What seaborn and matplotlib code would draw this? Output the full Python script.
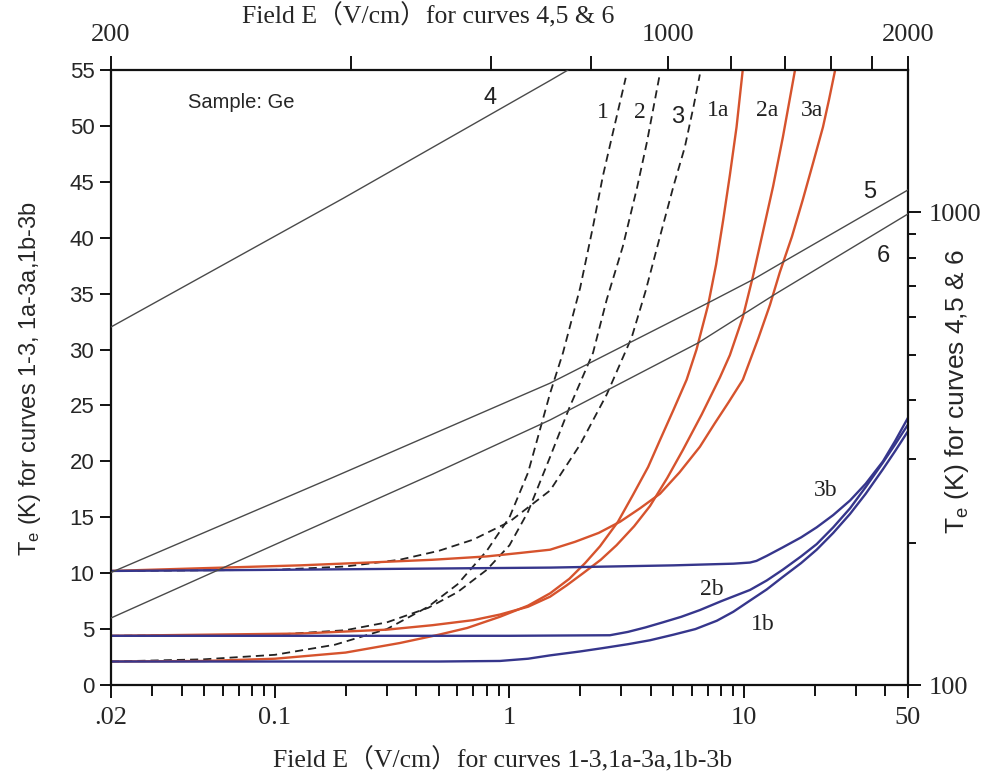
import numpy as np
import pandas as pd
import matplotlib
matplotlib.use('Agg')
import matplotlib.pyplot as plt
import seaborn as sns
from matplotlib.ticker import FixedLocator, FixedFormatter, NullFormatter

sns.set_style('ticks')
plt.rcParams['font.family'] = ['Liberation Sans', 'Noto Sans CJK SC']
plt.rcParams['mathtext.default'] = 'regular'
SERIF = ['Liberation Serif', 'Noto Sans CJK SC']

# ---------------- data: bottom axis E (V/cm), left axis Te (K) ----------------
E1 = [0.02, 0.05, 0.1, 0.18, 0.3, 0.45, 0.6, 0.8, 1.0, 1.2, 1.49, 1.69, 2.0, 2.27, 2.5, 2.76, 3.13]
T1 = [2.1, 2.3, 2.7, 3.6, 5.0, 7.0, 9.0, 12.0, 15.0, 19.0, 26.1, 29.7, 35.5, 41.0, 45.5, 49.4, 54.3]
E2 = [0.02, 0.1, 0.2, 0.3, 0.45, 0.6, 0.8, 1.0, 1.2, 1.49, 1.8, 2.27, 2.6, 3.04, 3.5, 3.85, 4.38]
T2 = [4.4, 4.5, 4.9, 5.6, 6.9, 8.3, 10.3, 12.5, 15.5, 20.4, 24.8, 29.7, 34.5, 39.2, 44.5, 48.5, 54.7]
E3 = [0.02, 0.1, 0.2, 0.34, 0.5, 0.7, 1.0, 1.49, 2.0, 2.6, 3.32, 3.8, 4.38, 5.0, 5.59, 6.1, 6.48]
T3 = [10.2, 10.3, 10.6, 11.2, 12.0, 13.0, 14.6, 17.4, 21.5, 26.0, 31.1, 35.2, 40.1, 44.6, 48.1, 51.8, 54.6]

E1a = [0.02, 0.05, 0.1, 0.2, 0.34, 0.5, 0.66, 0.91, 1.2, 1.49, 1.8, 2.1, 2.43, 2.9, 3.36, 3.9,
       4.38, 5.0, 5.69, 6.27, 7.03, 7.6, 8.15, 8.7, 9.29, 9.86]
T1a = [2.1, 2.15, 2.35, 2.9, 3.75, 4.5, 5.1, 6.1, 7.1, 8.2, 9.5, 10.9, 12.4, 14.6, 17.0, 19.5,
       21.9, 24.6, 27.3, 30.0, 34.0, 37.6, 41.6, 45.6, 49.9, 54.9]
E2a = [0.02, 0.128, 0.3, 0.47, 0.7, 0.91, 1.2, 1.49, 1.75, 2.06, 2.45, 2.86, 3.4, 3.97, 4.7,
       5.48, 6.6, 7.89, 8.7, 9.88, 10.9, 12.0, 13.3, 14.64, 16.46]
T2a = [4.4, 4.6, 4.95, 5.35, 5.8, 6.3, 7.0, 7.9, 8.9, 10.0, 11.2, 12.5, 14.2, 16.0, 18.5,
       21.0, 24.2, 27.5, 29.5, 32.9, 36.5, 40.4, 44.6, 49.0, 54.9]
E3a = [0.02, 0.05, 0.128, 0.25, 0.47, 0.8, 1.1, 1.49, 1.9, 2.4, 2.96, 3.6, 4.38, 5.3, 6.48,
       7.5, 8.6, 9.88, 11.5, 12.9, 14.2, 16.0, 17.8, 19.7, 21.7, 23.0, 24.4]
T3a = [10.2, 10.45, 10.7, 10.95, 11.2, 11.5, 11.8, 12.1, 12.8, 13.6, 14.6, 15.8, 17.1, 19.0, 21.3,
       23.4, 25.3, 27.3, 31.0, 34.0, 36.9, 40.1, 43.4, 46.7, 49.9, 52.3, 54.9]

E1b = [0.02, 0.5, 0.91, 1.2, 1.49, 2.0, 2.5, 3.2, 3.97, 5.0, 6.2, 7.66, 9.0, 10.6, 12.5, 14.6,
       17.5, 20.4, 24, 28.3, 33, 39.1, 44, 50]
T1b = [2.1, 2.1, 2.15, 2.35, 2.65, 3.0, 3.3, 3.65, 4.0, 4.5, 5.0, 5.75, 6.55, 7.55, 8.55, 9.65,
       10.9, 12.1, 13.6, 15.3, 17.1, 19.3, 20.9, 22.7]
E2b = [0.02, 1.0, 2.68, 3.2, 3.8, 4.5, 5.4, 6.48, 8.0, 10.6, 12.5, 14.6, 17.5, 20.4, 24, 28.3,
       33, 39.1, 44, 50]
T2b = [4.4, 4.4, 4.45, 4.75, 5.15, 5.6, 6.1, 6.7, 7.5, 8.5, 9.35, 10.3, 11.5, 12.6, 14.1, 15.8,
       17.7, 19.9, 21.5, 23.3]
E3b = [0.02, 0.1, 1.5, 5, 9.0, 10.6, 11.3, 12.5, 14.6, 17.5, 20.4, 24, 28.3, 33, 39.1, 44, 50]
T3b = [10.2, 10.3, 10.5, 10.7, 10.85, 10.95, 11.1, 11.55, 12.3, 13.2, 14.1, 15.2, 16.5, 18.0,
       20.0, 21.8, 23.9]

# ---------------- data: top axis E (V/cm), right axis Te (K) ----------------
E4 = [200, 391, 711, 749]
T4 = [572, 1070, 1900, 2000]
E5 = [200, 380, 711, 1122, 1275, 1414, 2000]
T5 = [173, 275, 435, 643, 719, 796, 1115]
E6 = [200, 308, 507, 711, 1090, 1370, 2000]
T6 = [138.6, 192, 279.5, 363.6, 529, 675, 992]

bottom_major = [0.02, 0.1, 1, 10, 50]
bottom_major_labels = ['.02', '0.1', '1', '10', '50']
bottom_minor = [0.03, 0.04, 0.05, 0.06, 0.07, 0.08, 0.09,
                0.2, 0.3, 0.4, 0.5, 0.6, 0.7, 0.8, 0.9,
                2, 3, 4, 5, 6, 7, 8, 9, 20, 30, 40]
left_ticks = [0, 5, 10, 15, 20, 25, 30, 35, 40, 45, 50, 55]
top_major = [200, 1000, 2000]
top_minor = [400, 600, 800, 1200, 1400, 1600, 1800]
right_major = [100, 1000]
right_minor = [200, 300, 400, 500, 600, 700, 800, 900]

RED = '#d6532d'
BLUE = '#36368c'
GREY = '#4a4a4a'

fig = plt.figure(figsize=(9.87, 7.79), dpi=100)
pos = [111 / 987, 1 - 685 / 779, 797 / 987, 615 / 779]
ax = fig.add_axes(pos)
ax2 = fig.add_axes(pos, frameon=False)


def draw(a, x, y, **kw):
    df = pd.DataFrame({'x': x, 'y': y})
    sns.lineplot(data=df, x='x', y='y', ax=a, sort=False, estimator=None, **kw)


for x, y in [(E1, T1), (E2, T2), (E3, T3)]:
    draw(ax, x, y, color='#222222', lw=1.3, linestyle=(0, (4.5, 2.8)))
for x, y in [(E1a, T1a), (E2a, T2a), (E3a, T3a)]:
    draw(ax, x, y, color=RED, lw=1.7)
for x, y in [(E1b, T1b), (E2b, T2b), (E3b, T3b)]:
    draw(ax, x, y, color=BLUE, lw=1.7)
for x, y in [(E4, T4), (E5, T5), (E6, T6)]:
    draw(ax2, x, y, color=GREY, lw=1.0)

# main axes
ax.set_xscale('log')
ax.set_xlim(0.02, 50)
ax.set_ylim(0, 55)
ax.xaxis.set_major_locator(FixedLocator(bottom_major))
ax.xaxis.set_major_formatter(FixedFormatter(bottom_major_labels))
ax.xaxis.set_minor_locator(FixedLocator(bottom_minor))
ax.xaxis.set_minor_formatter(NullFormatter())
ax.yaxis.set_major_locator(FixedLocator(left_ticks))
ax.set_xlabel('')
ax.set_ylabel('')
for s in ax.spines.values():
    s.set_linewidth(1.6)
    s.set_color('#111111')
    s.set_visible(True)
ax.tick_params(axis='both', which='both', direction='out', color='#111111', width=1.4)
ax.tick_params(axis='x', which='major', length=9, pad=7)
ax.tick_params(axis='x', which='minor', length=8)
ax.tick_params(axis='y', which='major', length=8, pad=4, labelsize=16)
for lab in ax.get_xticklabels():
    lab.set_fontfamily(SERIF)
    lab.set_fontsize(19)

# secondary axes (top & right)
ax2.set_xscale('log')
ax2.set_yscale('log')
ax2.set_xlim(200, 2000)
ax2.set_ylim(100, 2000)
ax2.xaxis.tick_top()
ax2.yaxis.tick_right()
ax2.xaxis.set_major_locator(FixedLocator(top_major))
ax2.xaxis.set_major_formatter(FixedFormatter([str(v) for v in top_major]))
ax2.xaxis.set_minor_locator(FixedLocator(top_minor))
ax2.xaxis.set_minor_formatter(NullFormatter())
ax2.yaxis.set_major_locator(FixedLocator(right_major))
ax2.yaxis.set_major_formatter(FixedFormatter([str(v) for v in right_major]))
ax2.yaxis.set_minor_locator(FixedLocator(right_minor))
ax2.yaxis.set_minor_formatter(NullFormatter())
ax2.set_xlabel('')
ax2.set_ylabel('')
ax2.tick_params(axis='both', which='both', direction='out', color='#111111', width=1.4)
ax2.tick_params(axis='x', which='both', length=10, pad=7)
ax2.tick_params(axis='y', which='major', length=9, pad=6)
ax2.tick_params(axis='y', which='minor', length=6)
for lab in ax2.get_xticklabels() + ax2.get_yticklabels():
    lab.set_fontfamily(SERIF)
    lab.set_fontsize(19)

# axis titles
fig.text(503 / 987, 1 - 760 / 779, 'Field E（V/cm）for curves 1-3,1a-3a,1b-3b',
         ha='center', va='center', fontsize=18.5, family=SERIF)
fig.text(428 / 987, 1 - 16 / 779, 'Field E（V/cm）for curves 4,5 & 6',
         ha='center', va='center', fontsize=18.5, family=SERIF)
fig.text(30 / 987, 1 - 378 / 779, 'T$_e$ (K) for curves 1-3, 1a-3a,1b-3b',
         ha='center', va='center', rotation=90, fontsize=17)
fig.text(957 / 987, 1 - 392 / 779, 'T$_e$ (K) for curves 4,5 & 6',
         ha='center', va='center', rotation=90, fontsize=19)

# curve annotations (bottom/left data coordinates)
ax.text(0.0426, 52.1, 'Sample: Ge', ha='left', va='center', fontsize=14.5)
for txt, x, y, fam in [('4', 0.825, 52.5, None), ('1', 2.5, 51.2, 's'), ('2', 3.6, 51.2, 's'),
                       ('3', 5.22, 50.8, None), ('1a', 7.73, 51.4, 's'), ('2a', 12.6, 51.4, 's'),
                       ('3a', 19.45, 51.4, 's'), ('5', 34.4, 44.1, None), ('6', 39.4, 38.4, None),
                       ('3b', 22.3, 17.4, 's'), ('2b', 7.29, 8.5, 's'), ('1b', 12.0, 5.4, 's')]:
    if fam == 's':
        ax.text(x, y, txt, ha='center', va='center', fontsize=17, family=SERIF, color='#222222')
    else:
        ax.text(x, y, txt, ha='center', va='center', fontsize=17, color='#222222')

fig.savefig('out.png', dpi=100)
